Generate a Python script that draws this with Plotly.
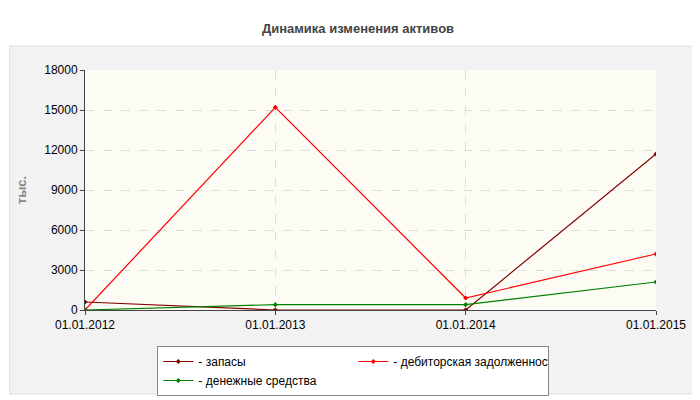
import plotly.graph_objects as go

dates = ["01.01.2012", "01.01.2013", "01.01.2014", "01.01.2015"]
zapasy = [600, 0, 0, 11700]
debitor = [0, 15200, 900, 4200]
dengi = [0, 400, 400, 2100]
names = ["- запасы", "- дебиторская задолженность", "- денежные средства"]
colors = ["#800000", "#ff0000", "#008000"]
yticks = [0, 3000, 6000, 9000, 12000, 15000, 18000]

fig = go.Figure()
for n, vals, c in zip(names, [zapasy, debitor, dengi], colors):
    fig.add_trace(go.Scatter(x=list(range(len(dates))), y=vals, name=n, mode="lines+markers",
                             line=dict(color=c, width=1.2), marker=dict(size=4, color=c, symbol="diamond")))

fig.update_layout(
    width=700, height=400, margin=dict(l=77, r=52, t=62, b=90),
    paper_bgcolor="white", plot_bgcolor="rgba(0,0,0,0)",
    font=dict(family="Liberation Sans", size=12, color="#000"),
    title=dict(text="<b>Динамика изменения активов</b>", x=0.5, y=0.95, xanchor="center", yanchor="middle",
               font=dict(size=13, color="#444", family="Liberation Sans")),
    xaxis=dict(tickmode="array", tickvals=list(range(len(dates))), ticktext=dates, range=[0, 3],
               showgrid=True, gridcolor="#dddddd", griddash="dash", zeroline=False,
               showline=True, linecolor="#444", ticks="outside", ticklen=4),
    yaxis=dict(tickvals=yticks, tickformat="d", range=[0, 18000], showgrid=True, gridcolor="#dddddd",
               griddash="dash", zeroline=False, showline=True, linecolor="#444", ticks="outside", ticklen=4,
               title=dict(text="<b>тыс.</b>", font=dict(size=13, color="#888"), standoff=14)),
    legend=dict(orientation="h", x=0.47, xanchor="center", y=-0.15, yanchor="top",
                bordercolor="#888", borderwidth=1, bgcolor="white", font=dict(size=12),
                entrywidth=150),
    shapes=[dict(type="rect", xref="paper", yref="paper", x0=-0.132, x1=1.083, y0=-0.35, y1=1.10,
                 fillcolor="#f2f2f2", line=dict(color="#dddddd", width=1), layer="below"),
            dict(type="rect", xref="paper", yref="paper", x0=0, x1=1, y0=0, y1=1,
                 fillcolor="#fcfcf4", line=dict(width=0), layer="below")],
)
fig.write_html("out.html")
